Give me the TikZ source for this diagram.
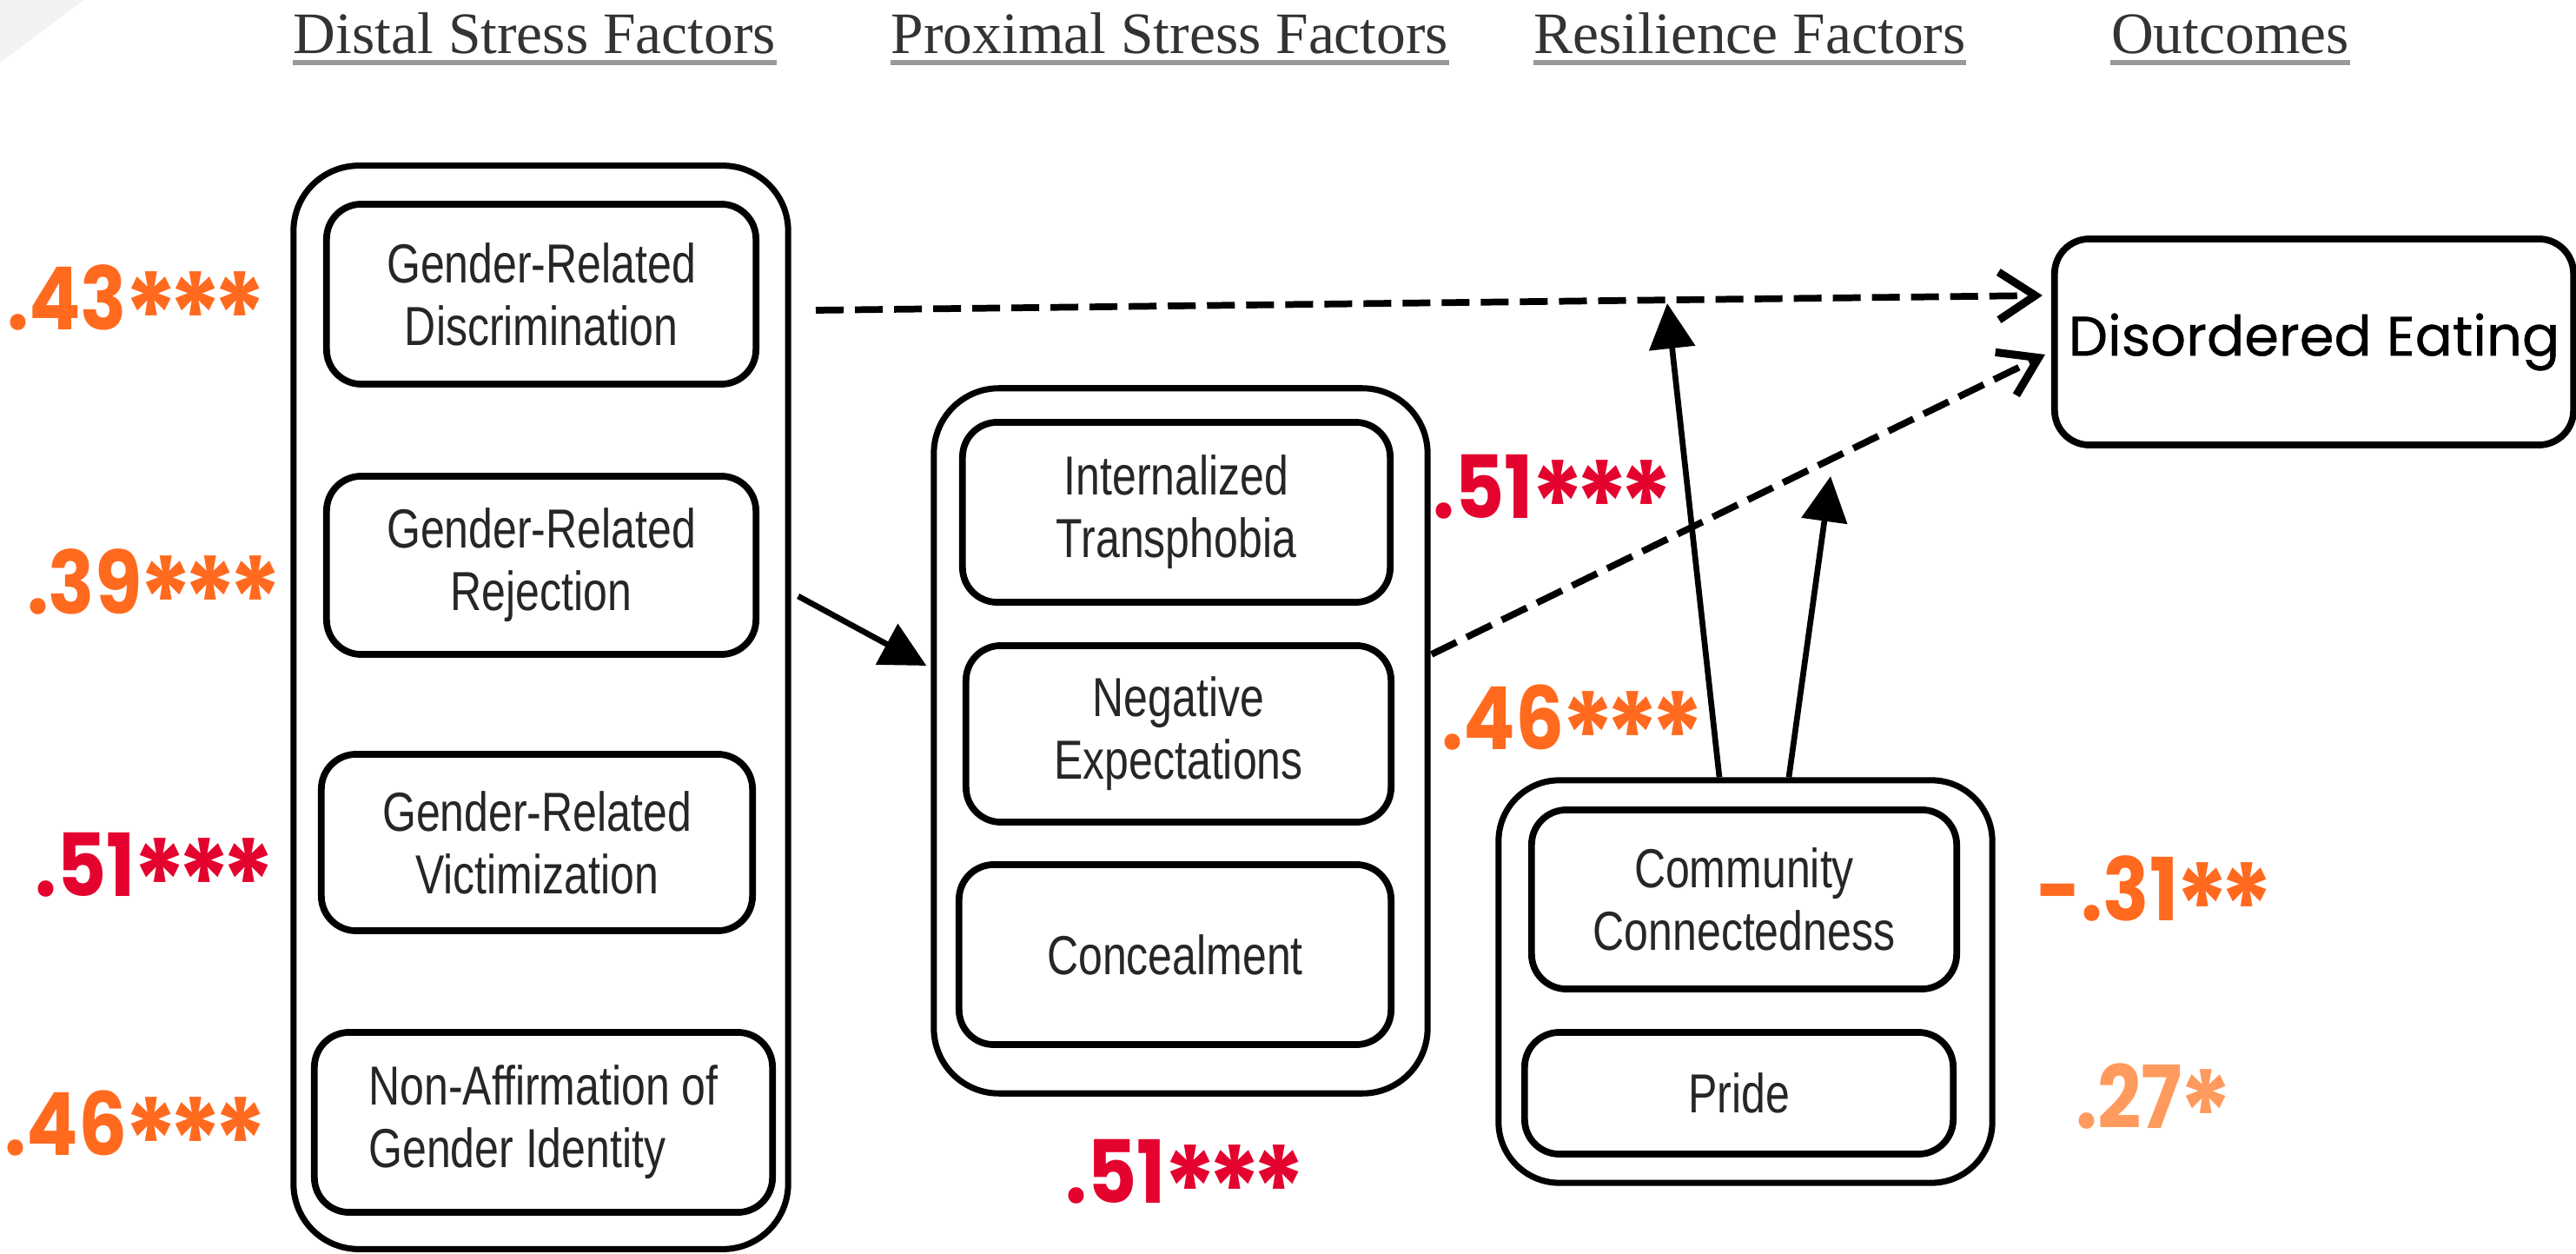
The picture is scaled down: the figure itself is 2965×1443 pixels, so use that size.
\documentclass[tikz,border=0pt]{standalone}
\usepackage{fontspec}
\setmainfont{Liberation Serif}
\newfontfamily\boxfont[FakeStretch=0.79]{Liberation Sans}
\newfontfamily\numfont[FakeStretch=0.88]{Poppins}
\newfontfamily\defont[FakeBold=0.6]{Poppins}
\usetikzlibrary{arrows.meta,calc}
\definecolor{numorange}{HTML}{FF6A1F}
\definecolor{numred}{HTML}{E4032E}
\definecolor{numlight}{HTML}{FF9A5E}
\definecolor{txtgray}{HTML}{262626}
\definecolor{headgray}{HTML}{333333}
\definecolor{ulgray}{HTML}{999999}
\newcommand\firststar{\kern-0.04em\raisebox{-9pt}{\fontsize{38}{38}\selectfont *}}
\newcommand\onestar{\kern-0.115em\raisebox{-9pt}{\fontsize{38}{38}\selectfont *}}
\tikzset{
  outerbox/.style={draw=black, line width=2pt, rounded corners=0.75cm, inner sep=0pt},
  innerbox/.style={draw=black, line width=2.2pt, rounded corners=0.4cm, inner sep=2pt,
    font=\boxfont\fontsize{18}{20.5}\selectfont, text=txtgray, align=center},
  outbox/.style={draw=black, line width=2.2pt, rounded corners=0.4cm, inner sep=2pt,
    font=\defont\fontsize{18.2}{22}\selectfont, text=black},
  header/.style={anchor=base, inner sep=0pt, text=headgray, font=\fontsize{19.2}{22}\selectfont},
  uline/.style={draw=ulgray, line width=1.5pt},
  numlab/.style={anchor=base, inner sep=0pt, font=\numfont\bfseries\fontsize{28.5}{30}\selectfont},
  solidarr/.style={draw=black, line width=1.9pt, -{Triangle[length=0.52cm,width=0.52cm]}},
  dasharr/.style={draw=black, line width=2.2pt, dash pattern=on 0.32cm off 0.13cm,
    -{Straight Barb[length=0.42cm,width=0.55cm,line width=2.6pt]}}
}
\begin{document}
\begin{tikzpicture}[x=0.01cm,y=-0.01cm]
\useasboundingbox (0,0) rectangle (2965,1443);
\fill[white] (0,0) rectangle (2965,1443);
\fill[gray!10] (0,0) -- (96,0) -- (0,72) -- cycle;

% headers
\node[header] (h1) at (615.5,62) {Distal Stress Factors};
\node[header] (h2) at (1346.5,62) {Proximal Stress Factors};
\node[header] (h3) at (2014,62) {Resilience Factors};
\node[header] (h4) at (2567,62) {Outcomes};
\foreach \h in {h1,h2,h3,h4}{
  \draw[uline] ($(\h.base west)+(0,10)$) -- ($(\h.base east)+(0,10)$);
}

% distal column
\node[outerbox, minimum width=5.69cm, minimum height=12.46cm] (L) at (622.5,814) {};
\node[innerbox, minimum width=4.94cm, minimum height=2.07cm] (D1) at (623,338.5) {Gender-Related\\Discrimination};
\node[innerbox, minimum width=4.94cm, minimum height=2.05cm] (D2) at (623,650.5) {Gender-Related\\Rejection};
\node[innerbox, minimum width=4.96cm, minimum height=2.03cm] (D3) at (618,969.5) {Gender-Related\\Victimization};
\node[innerbox, minimum width=5.27cm, minimum height=2.07cm, align=left] (D4) at (625.5,1291.5) {Non-Affirmation of\\Gender Identity};

% proximal column
\node[outerbox, minimum width=5.68cm, minimum height=8.11cm] (P) at (1359,852.5) {};
\node[innerbox, minimum width=4.92cm, minimum height=2.07cm] (P1) at (1354,589.5) {Internalized\\Transphobia};
\node[innerbox, minimum width=4.89cm, minimum height=2.03cm] (P2) at (1356.5,844.5) {Negative\\Expectations};
\node[innerbox, minimum width=4.97cm, minimum height=2.07cm] (P3) at (1352.5,1098.5) {Concealment};

% resilience column
\node[outerbox, rounded corners=0.7cm, minimum width=5.68cm, minimum height=4.63cm] (R) at (2009,1129.5) {};
\node[innerbox, minimum width=4.89cm, minimum height=2.06cm] (R1) at (2007.5,1035) {Community\\Connectedness};
\node[innerbox, minimum width=4.93cm, minimum height=1.40cm] (R2) at (2001.5,1258) {Pride};

% outcome
\node[outbox, minimum width=5.97cm, minimum height=2.37cm] (DE) at (2663.5,393.5) {Disordered Eating};

% connectors
\coordinate (m1) at (1919,349);
\coordinate (m2) at (2107,548);
\draw[solidarr] ($(L.east)+(8,-128)$) -- ($(P.west)+(-5,-86.5)$);
\draw[dasharr] ($(D1.east)+(65,18.5)$) -- ($(DE.west)+(-10,-53.5)$);
\draw[dasharr] ($(P.east)+(1,-99.5)$) -- ($(DE.west)+(-7,14.5)$);
\draw[solidarr] ($(R.north)+(-30,0)$) -- (m1);
\draw[solidarr] ($(R.north)+(50,0)$) -- (m2);

% coefficients
\node[numlab, text=numorange] (c1) at (158,380) {.43\firststar\onestar\onestar};
\node[numlab, text=numorange] (c2) at (178,707) {.39\firststar\onestar\onestar};
\node[numlab, text=numred] (c3) at (179,1032) {.51\firststar\onestar\onestar};
\node[numlab, text=numorange] (c4) at (157,1330) {.46\firststar\onestar\onestar};
\node[numlab, text=numred] (c5) at (1788,597) {.51\firststar\onestar\onestar};
\node[numlab, text=numorange] (c6) at (1811,863) {.46\firststar\onestar\onestar};
\node[numlab, text=numred] (c7) at (1365,1385) {.51\firststar\onestar\onestar};
\node[numlab, text=numorange] (c8) at (2481,1060) {-.31\firststar\onestar};
\node[numlab, text=numlight] (c9) at (2480,1298) {.27\firststar};
\end{tikzpicture}
\end{document}
